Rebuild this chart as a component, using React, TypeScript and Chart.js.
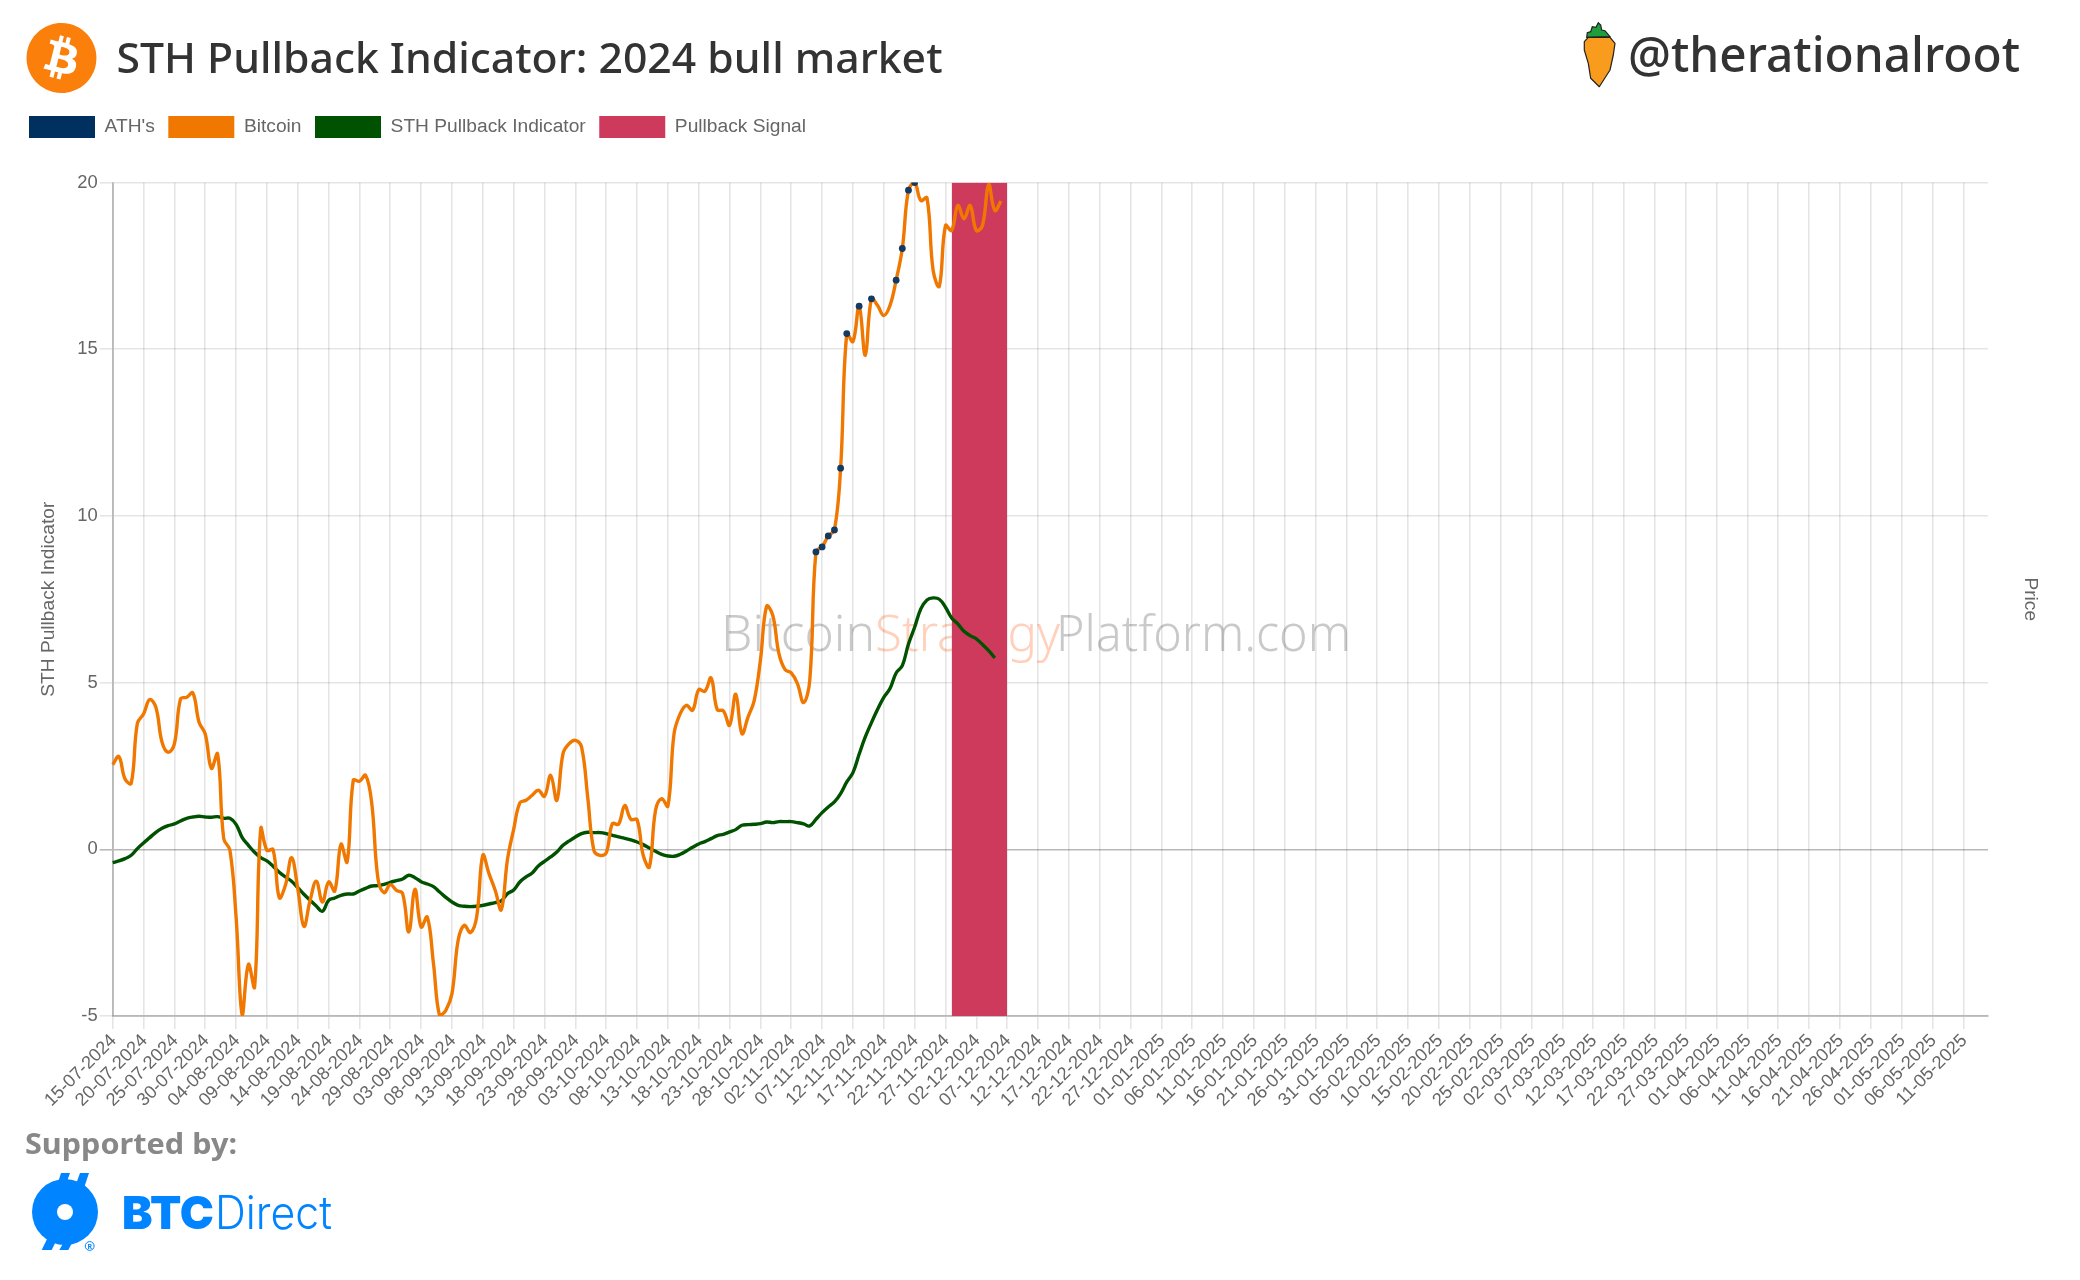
import React, { useEffect, useRef } from "react";
import { Chart, registerables } from "chart.js";

Chart.register(...registerables);

const START_DATE = Date.UTC(2024, 6, 15);
const DAY_COUNT = 305;
const categories: string[] = [];
for (let i = 0; i < DAY_COUNT; i++) {
  const d = new Date(START_DATE + i * 86400000);
  const dd = String(d.getUTCDate()).padStart(2, "0");
  const mm = String(d.getUTCMonth() + 1).padStart(2, "0");
  categories.push(`${dd}-${mm}-${d.getUTCFullYear()}`);
}

const bitcoin = [
  2.54, 2.78, 2.11, 1.98, 3.78, 4.06, 4.49, 4.26, 3.21, 2.91,
  3.16, 4.51, 4.56, 4.69, 3.81, 3.46, 2.43, 2.86, 0.32, -0.03,
  -2.03, -4.97, -3.45, -4.13, 0.62, -0.03, -0.01, -1.45, -1.08, -0.25,
  -1.18, -2.31, -1.53, -0.96, -1.58, -0.98, -1.25, 0.15, -0.38, 2.07,
  2.04, 2.22, 1.37, -0.88, -1.3, -1.06, -1.23, -1.33, -2.48, -1.2,
  -2.33, -2.03, -3.43, -5.0, -4.83, -4.33, -2.73, -2.28, -2.5, -2.03,
  -0.18, -0.73, -1.23, -1.81, -0.3, 0.6, 1.39, 1.47, 1.62, 1.77,
  1.59, 2.22, 1.47, 2.87, 3.17, 3.27, 3.07, 1.57, -0.03, -0.18,
  -0.11, 0.77, 0.75, 1.31, 0.9, 0.89, -0.18, -0.53, 1.17, 1.52,
  1.29, 3.47, 4.07, 4.32, 4.17, 4.79, 4.74, 5.14, 4.19, 4.15,
  3.72, 4.65, 3.47, 3.97, 4.47, 5.67, 7.29, 7.02, 5.87, 5.39,
  5.29, 4.97, 4.4, 5.07, 8.92, 9.07, 9.4, 9.58, 11.43, 15.47,
  15.23, 16.29, 14.82, 16.51, 16.31, 16.01, 16.31, 17.07, 18.02, 19.77,
  20.0, 19.46, 19.54, 17.36, 16.89, 18.71, 18.56, 19.31, 18.91, 19.31,
  18.56, 18.71, 19.94, 19.16, 19.44,
];

const sthPullback = [
  -0.4, -0.35, -0.28, -0.18, 0.02, 0.19, 0.35, 0.51, 0.63, 0.71,
  0.76, 0.85, 0.93, 0.97, 0.99, 0.97, 0.96, 0.98, 0.93, 0.93,
  0.75, 0.35, 0.12, -0.09, -0.25, -0.35, -0.51, -0.69, -0.83, -0.96,
  -1.15, -1.35, -1.53, -1.7, -1.86, -1.53, -1.46, -1.38, -1.34, -1.34,
  -1.25, -1.17, -1.1, -1.09, -1.05, -0.99, -0.94, -0.89, -0.78, -0.85,
  -0.97, -1.04, -1.12, -1.28, -1.44, -1.58, -1.68, -1.71, -1.72, -1.71,
  -1.68, -1.64, -1.6, -1.55, -1.33, -1.22, -0.98, -0.83, -0.71, -0.5,
  -0.36, -0.23, -0.08, 0.12, 0.25, 0.37, 0.47, 0.51, 0.5, 0.5,
  0.47, 0.42, 0.37, 0.33, 0.28, 0.22, 0.14, 0.04, -0.06, -0.15,
  -0.2, -0.21, -0.15, -0.05, 0.06, 0.16, 0.23, 0.32, 0.41, 0.45,
  0.52, 0.59, 0.72, 0.74, 0.75, 0.77, 0.82, 0.8, 0.83, 0.83,
  0.83, 0.8, 0.76, 0.7, 0.9, 1.1, 1.27, 1.42, 1.67, 2.02,
  2.3, 2.85, 3.37, 3.8, 4.2, 4.56, 4.82, 5.29, 5.51, 6.16,
  6.66, 7.21, 7.48, 7.54, 7.5, 7.26, 6.94, 6.76, 6.54, 6.41,
  6.31, 6.14, 5.96, 5.74,
];

const athDays = [114, 115, 116, 117, 118, 119, 121, 123, 127, 128, 129, 130];
const athValues = [8.92, 9.07, 9.4, 9.58, 11.43, 15.47, 16.29, 16.51, 17.07, 18.02, 19.77, 20.0];

const signalDays = [136, 137, 138, 139, 140, 141, 142, 143, 144, 145];
const signalLevel = 20;

const ATHS = new Array(DAY_COUNT).fill(null);
athDays.forEach((d, i) => (ATHS[d] = athValues[i]));
const SIGNAL = new Array(DAY_COUNT).fill(null);
signalDays.forEach((d) => (SIGNAL[d] = signalLevel));

const TICK_COLOR = "#666";
const GRID = "rgba(0,0,0,0.1)";
const AXIS = "rgba(0,0,0,0.2)";
const FONT = "'Liberation Sans', Arial, sans-serif";

export default function App() {
  const ref = useRef<HTMLCanvasElement>(null);

  useEffect(() => {
    const legendGap = {
      id: "legendGap",
      beforeInit(chart: any) {
        const fit = chart.legend.fit;
        chart.legend.fit = function () {
          fit.bind(this)();
          this.height += 34.5;
        };
      },
    };
    const chart = new Chart(ref.current as HTMLCanvasElement, {
      type: "line",
      data: {
        labels: categories,
        datasets: [
          {
            label: "ATH's",
            data: ATHS,
            showLine: false,
            pointRadius: 3.4,
            pointHoverRadius: 3.4,
            pointBorderWidth: 0,
            pointBackgroundColor: "#123a63",
            backgroundColor: "#00305f",
            borderColor: "#00305f",
            borderWidth: 1,
          },
          {
            label: "Bitcoin",
            data: bitcoin,
            borderColor: "#f07800",
            backgroundColor: "#f07800",
            borderWidth: 3.4,
            pointRadius: 0,
            tension: 0.4,
            fill: false,
          },
          {
            label: "STH Pullback Indicator",
            data: sthPullback,
            borderColor: "#005200",
            backgroundColor: "#005200",
            borderWidth: 3.4,
            pointRadius: 0,
            tension: 0.4,
            fill: false,
          },
          {
            label: "Pullback Signal",
            data: SIGNAL,
            borderColor: "#ce3a5b",
            backgroundColor: "#ce3a5b",
            borderWidth: 0,
            pointRadius: 0,
            tension: 0,
            fill: "start",
          },
        ],
      },
      options: {
        responsive: false,
        animation: false,
        devicePixelRatio: 1,
        layout: { padding: { left: 15.5, right: 0, top: 102.5, bottom: 0 } },
        plugins: {
          title: { display: false },
          tooltip: { enabled: false },
          legend: {
            display: true,
            position: "top",
            align: "start",
            onClick: () => {},
            labels: {
              boxWidth: 66,
              boxHeight: 22,
              padding: 13.5,
              color: TICK_COLOR,
              font: { family: FONT, size: 19.2 },
              generateLabels: (c: any) =>
                Chart.defaults.plugins.legend.labels.generateLabels(c).map((l: any) => ({ ...l, lineWidth: 0 })),
            },
          },
        },
        scales: {
          x: {
            type: "category",
            offset: false,
            afterFit: (s: any) => {
              s.height = 264;
            },
            afterBuildTicks: (axis: any) => {
              axis.ticks = axis.ticks.filter((t: any) => t.value % 5 === 0);
            },
            grid: { color: GRID, lineWidth: 1.6, tickLength: 13 },
            border: { color: AXIS, width: 2 },
            ticks: {
              autoSkip: false,
              minRotation: 45,
              maxRotation: 45,
              padding: 1,
              labelOffset: 1,
              color: TICK_COLOR,
              font: { family: FONT, size: 18.2 },
            },
          },
          y: {
            position: "left",
            min: -5,
            max: 20,
            afterFit: (s: any) => {
              s.width = 112.7 - 15.5;
            },
            ticks: {
              stepSize: 5,
              padding: 2,
              color: TICK_COLOR,
              font: { family: FONT, size: 18.4 },
            },
            grid: {
              tickLength: 13,
              lineWidth: 1.6,
              color: (c: any) => (c.tick && c.tick.value === 0 ? "rgba(0,0,0,0.28)" : GRID),
            },
            border: { color: AXIS, width: 2 },
            title: {
              display: true,
              text: "STH Pullback Indicator",
              color: TICK_COLOR,
              font: { family: FONT, size: 19.2 },
              padding: { top: 21.5, bottom: 0 },
            },
          },
          y2: {
            position: "right",
            display: true,
            afterFit: (s: any) => {
              s.width = 92;
            },
            ticks: { display: false },
            grid: { drawOnChartArea: false, drawTicks: false },
            border: { display: false },
            title: {
              display: true,
              text: "Price",
              color: TICK_COLOR,
              font: { family: FONT, size: 19.2 },
              padding: { top: 38, bottom: 0 },
            },
          },
        },
      },
      plugins: [legendGap],
    } as any);
    return () => chart.destroy();
  }, []);

  const noto = "'Noto Sans', sans-serif";
  return (
    <div style={{ position: "absolute", left: 0, top: 0, width: 2080, height: 1280, overflow: "hidden", background: "#fff" }}>
      <svg width={2080} height={1280} style={{ position: "absolute", left: 0, top: 0 }}>
        <g fontFamily={noto} fontWeight={300} fontSize={50}>
          <text x={721} y={651} fill="#c9c9c9" textLength={154} lengthAdjust="spacingAndGlyphs">Bitcoin</text>
          <text x={875} y={651} fill="#ffd0bb" textLength={185} lengthAdjust="spacingAndGlyphs">Strategy</text>
          <text x={1056} y={651} fill="#c9c9c9" textLength={295} lengthAdjust="spacingAndGlyphs">Platform.com</text>
        </g>
      </svg>
      <canvas ref={ref} width={2080} height={1280} style={{ position: "absolute", left: 0, top: 0, width: 2080, height: 1280 }} />
      <svg width={2080} height={1280} style={{ position: "absolute", left: 0, top: 0, pointerEvents: "none" }}>
        {/* bitcoin logo */}
        <g transform="translate(26.5 23) scale(2.917)">
          <path
            fill="#fb7f0b"
            d="M23.638 14.904c-1.602 6.43-8.113 10.34-14.542 8.736C2.67 22.05-1.244 15.525.362 9.105 1.962 2.67 8.475-1.243 14.9.358c6.43 1.605 10.342 8.115 8.738 14.548v-.002zm-6.35-4.613c.24-1.59-.974-2.45-2.64-3.03l.54-2.153-1.315-.33-.525 2.107c-.345-.087-.705-.167-1.064-.25l.526-2.127-1.32-.33-.54 2.165c-.285-.067-.565-.132-.84-.2l-1.815-.45-.35 1.407s.975.225.955.236c.535.136.63.486.615.766l-1.477 5.92c-.075.166-.24.406-.614.314.015.02-.96-.24-.96-.24l-.66 1.51 1.71.426.93.242-.54 2.19 1.32.327.54-2.17c.36.1.705.19 1.05.273l-.51 2.154 1.32.33.545-2.19c2.24.427 3.93.257 4.64-1.774.57-1.637-.03-2.58-1.217-3.196.854-.193 1.5-.76 1.68-1.93h.01zm-3.01 4.22c-.404 1.64-3.157.75-4.05.53l.72-2.9c.896.23 3.757.67 3.33 2.37zm.41-4.24c-.37 1.49-2.662.735-3.405.55l.654-2.64c.744.18 3.137.524 2.75 2.084v.006z"
          />
        </g>
        <text x={116.5} y={73} fontFamily={noto} fontWeight={500} fontSize={42} fill="#333" textLength={826} lengthAdjust="spacingAndGlyphs">
          STH Pullback Indicator: 2024 bull market
        </text>
        {/* carrot */}
        <path
          d="M1586.7 37.3 L1587.3 32.7 L1590.7 31.7 L1592.3 26.7 L1596 27.3 L1598.3 22.7 L1600.7 25 L1601.7 30 L1605 30.7 L1610 36.7 Z"
          fill="#1f9e3c"
          stroke="#222"
          strokeWidth={1.2}
        />
        <path
          d="M1584.3 41.7 L1588.3 37.3 L1610 37.3 L1615 43.3 L1613.3 55 L1610 70 L1599.3 86.7 L1590.7 78.3 L1588.3 63.3 L1584.3 50 Z"
          fill="#f99b1c"
          stroke="#222"
          strokeWidth={1.2}
          strokeLinejoin="round"
        />
        <text x={1628} y={72} fontFamily={noto} fontWeight={500} fontSize={49} fill="#333" textLength={392} lengthAdjust="spacingAndGlyphs">
          @therationalroot
        </text>
        {/* supported by */}
        <text x={25} y={1154} fontFamily={noto} fontWeight={700} fontSize={29} fill="#888" textLength={212} lengthAdjust="spacingAndGlyphs">
          Supported by:
        </text>
        {/* BTC Direct logo */}
        <g fill="#0084ff">
          <circle cx={65} cy={1212} r={33} />
          <polygon points="61,1173 70,1173 65,1187 56.7,1187" />
          <polygon points="80,1173 89,1173 84,1188 75.7,1185" />
          <polygon points="50,1233 60,1233 51.7,1250 41.7,1250" />
          <polygon points="66.7,1237 75,1237 68.3,1250 59.3,1250" />
        </g>
        <circle cx={65} cy={1212} r={8} fill="#fff" />
        <circle cx={89.7} cy={1246} r={4.4} fill="none" stroke="#0084ff" strokeWidth={1} />
        <text x={89.7} y={1248.7} textAnchor="middle" fontFamily={noto} fontSize={7} fontWeight={700} fill="#0084ff">R</text>
        <text x={122} y={1229} fontFamily="Inter, sans-serif" fontWeight={900} fontSize={46} fill="#0084ff" textLength={92} lengthAdjust="spacingAndGlyphs">BTC</text>
        <text x={215} y={1229} fontFamily="Inter, sans-serif" fontWeight={300} fontSize={46} fill="#0084ff" textLength={117} lengthAdjust="spacingAndGlyphs">Direct</text>
      </svg>
    </div>
  );
}
